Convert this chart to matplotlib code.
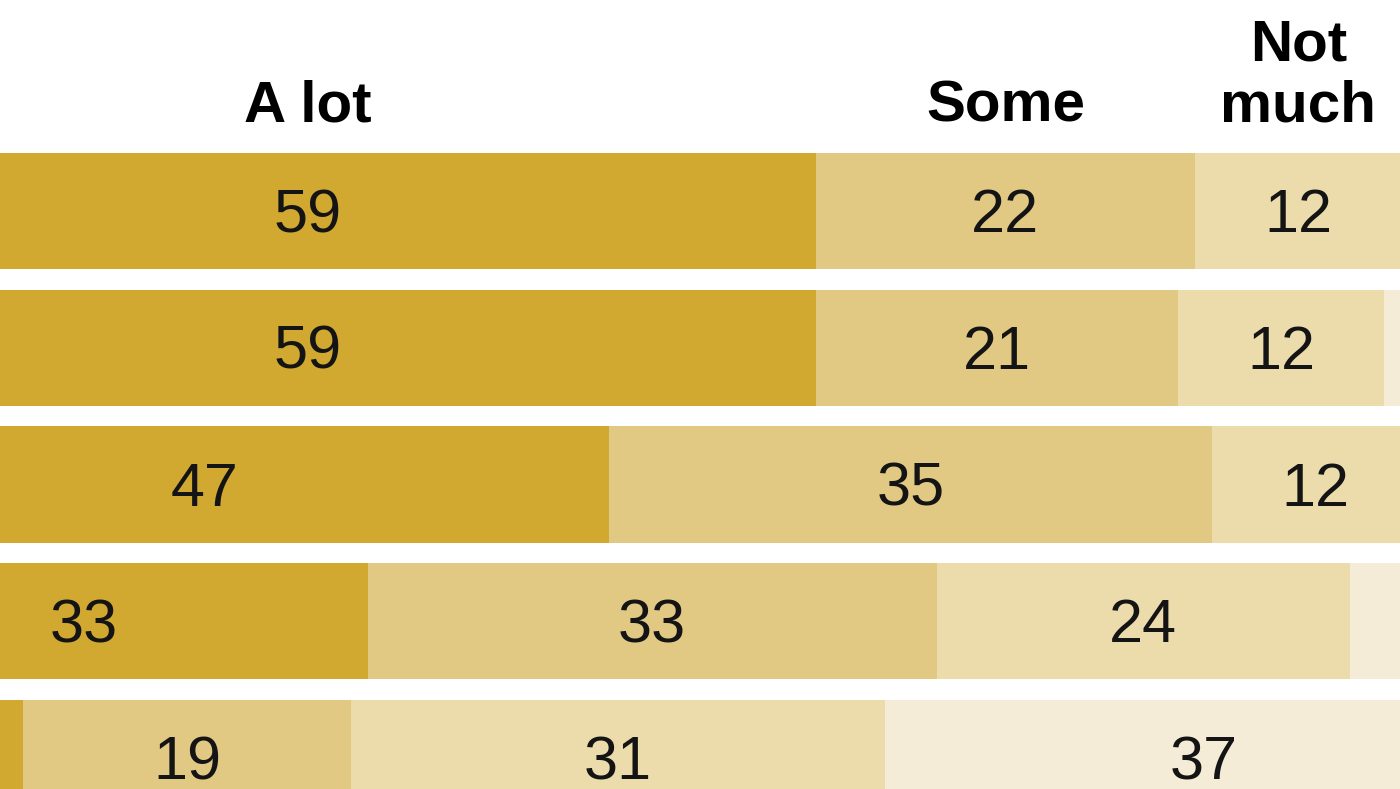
import numpy as np
import matplotlib
matplotlib.use("Agg")
import matplotlib.pyplot as plt

# Data (percent)
rows = ["r1", "r2", "r3", "r4", "r5"]
a_lot = [59, 59, 47, 33, 13]
some = [22, 21, 35, 33, 19]
not_much = [12, 12, 12, 24, 31]
not_at_all = [6, 7, 5, 9, 37]

series = [a_lot, some, not_much, not_at_all]
colors = ["#D1A830", "#E1C983", "#ECDCAB", "#F5ECD7"]
headers = ["A lot", "Some", "Not\nmuch"]

num_font = ["Liberation Sans", "DejaVu Sans"]
head_font = ["Liberation Sans", "DejaVu Sans"]

x_lo, x_hi = 11.64, 92.9

fig = plt.figure(figsize=(14, 7.89), dpi=100)
ax = fig.add_axes([0, 0, 1, 1])

y_pos = np.arange(len(rows))
left = np.zeros(len(rows))
for vals, col in zip(series, colors):
    vals = np.array(vals, dtype=float)
    ax.barh(y_pos, vals, left=left, height=0.85, color=col, edgecolor="none")
    for i in range(len(rows)):
        cx = left[i] + vals[i] / 2
        # only label segments whose middle is inside the visible window
        if x_lo + 2 < cx < x_hi - 2:
            ax.text(cx, y_pos[i] + 0.155, str(int(vals[i])),
                    ha="center", va="baseline", fontsize=44,
                    color="#141414", family=num_font, clip_on=True)
    left += vals

# Column headers centered over the first row's segments
start = 0
for k, h in enumerate(headers):
    cx = start + series[k][0] / 2
    start += series[k][0]
    lines = h.split("\n")
    for j, line in enumerate(reversed(lines)):
        ax.text(cx, -0.651 - j * 0.453, line, ha="center", va="baseline",
                fontsize=42, fontweight="bold", color="black", family=head_font)

ax.set_xlim(x_lo, x_hi)
ax.set_ylim(4.227, -1.543)
ax.axis("off")

fig.savefig("out.png", dpi=100)
plt.close(fig)
